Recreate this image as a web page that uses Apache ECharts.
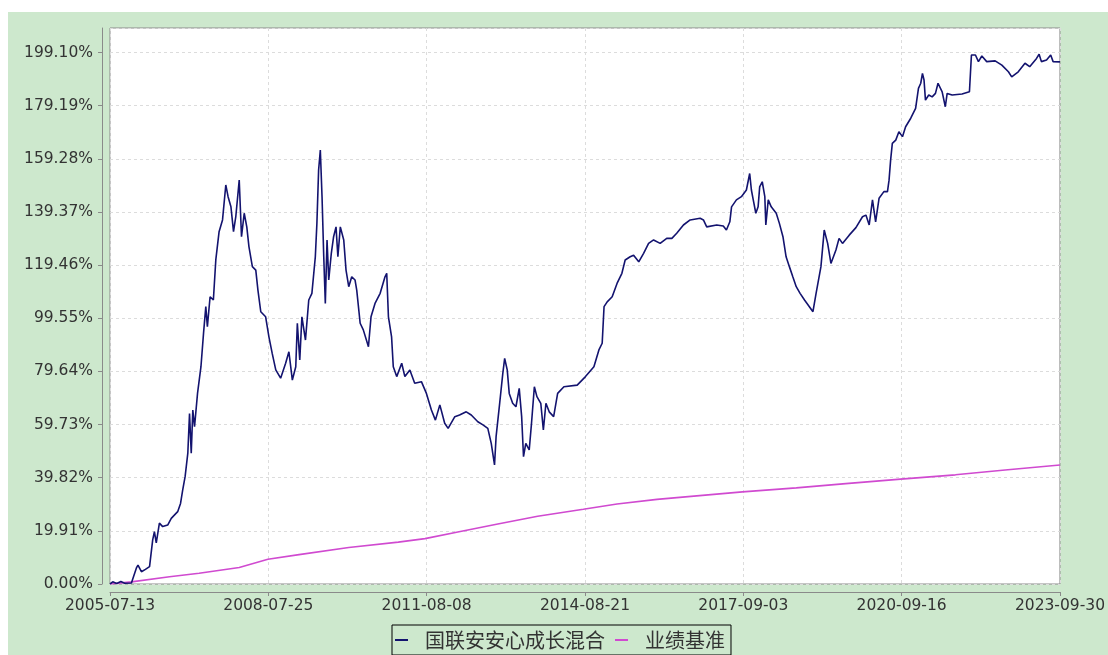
<!DOCTYPE html>
<html><head><meta charset="utf-8">
<script src="https://cdn.jsdelivr.net/npm/echarts@6/dist/echarts.min.js"></script>
<style>
html,body{margin:0;padding:0;background:#fff;width:1108px;height:655px;overflow:hidden}
#c{position:absolute;left:8px;top:12px;width:1100px;height:643px;background:#cde8cd}
</style>
</head><body><div id="c"></div>
<script>
const startDate = '2005-07-13';
const endDate = '2023-09-30';
const xTickLabels = ['2005-07-13','2008-07-25','2011-08-08','2014-08-21','2017-09-03','2020-09-16','2023-09-30'];
const yStep = 19.91;
const yMax = 208.3;
const seriesNames = ['国联安安心成长混合','业绩基准'];

const fundDates = [
'2005-07-13','2005-08-01','2005-08-29','2005-09-27','2005-10-24','2005-12-10','2006-01-14','2006-01-25','2006-02-18','2006-03-18',
'2006-04-16','2006-05-08','2006-05-20','2006-06-02','2006-06-24','2006-07-17','2006-08-21','2006-09-15','2006-10-30','2006-11-19',
'2006-12-04','2006-12-21','2007-01-09','2007-01-21','2007-02-02','2007-02-13','2007-02-25','2007-03-18','2007-04-11','2007-04-29',
'2007-05-15','2007-05-26','2007-06-14','2007-07-07','2007-07-24','2007-08-16','2007-09-09','2007-10-02','2007-10-18','2007-11-07',
'2007-11-25','2007-12-11','2008-01-04','2008-01-20','2008-02-08','2008-02-26','2008-03-12','2008-04-05','2008-04-29','2008-05-14',
'2008-06-03','2008-07-07','2008-07-30','2008-08-22','2008-09-16','2008-10-20','2008-11-24','2008-12-17','2009-01-10','2009-02-03',
'2009-02-14','2009-03-03','2009-03-18','2009-04-12','2009-05-05','2009-05-27','2009-06-20','2009-07-01','2009-07-13','2009-07-25',
'2009-08-06','2009-08-18','2009-08-29','2009-09-10','2009-09-22','2009-10-10','2009-10-26','2009-11-12','2009-11-25','2009-12-12',
'2010-01-05','2010-01-21','2010-02-09','2010-03-02','2010-03-25','2010-04-06','2010-04-30','2010-05-22','2010-06-27','2010-07-15',
'2010-08-12','2010-09-17','2010-10-21','2010-11-02','2010-11-14','2010-12-06','2010-12-18','2011-01-11','2011-02-15','2011-03-09',
'2011-04-13','2011-05-17','2011-07-03','2011-08-07','2011-09-11','2011-10-09','2011-11-09','2011-12-13','2012-01-06','2012-02-22',
'2012-03-26','2012-05-12','2012-06-16','2012-08-01','2012-09-06','2012-10-10','2012-11-03','2012-11-26','2012-12-07','2013-01-01',
'2013-01-23','2013-02-05','2013-02-23','2013-03-09','2013-04-02','2013-04-25','2013-05-18','2013-06-04','2013-06-17','2013-07-03',
'2013-07-27','2013-08-12','2013-09-01','2013-09-19','2013-10-16','2013-11-03','2013-11-21','2013-12-14','2014-01-14','2014-02-11',
'2014-03-27','2014-06-28','2014-08-25','2014-10-23','2014-11-27','2014-12-20','2015-01-02','2015-01-24','2015-02-28','2015-04-03',
'2015-05-07','2015-05-30','2015-07-04','2015-07-28','2015-09-02','2015-10-06','2015-11-10','2015-12-15','2016-01-30','2016-03-16',
'2016-04-21','2016-05-25','2016-07-11','2016-08-27','2016-11-05','2016-11-28','2016-12-21','2017-03-01','2017-04-16','2017-05-08',
'2017-06-01','2017-06-13','2017-07-17','2017-08-21','2017-09-25','2017-10-18','2017-10-30','2017-11-12','2017-11-30','2017-12-16',
'2017-12-27','2018-01-14','2018-02-01','2018-02-08','2018-02-25','2018-03-18','2018-04-22','2018-05-14','2018-06-08','2018-06-30',
'2018-07-23','2018-08-16','2018-09-09','2018-10-06','2018-11-06','2018-12-10','2019-01-04','2019-01-26','2019-03-01','2019-03-24',
'2019-04-17','2019-05-10','2019-06-14','2019-07-06','2019-07-30','2019-09-15','2019-11-01','2019-12-17','2020-01-10','2020-02-02',
'2020-02-25','2020-03-18','2020-04-11','2020-05-15','2020-06-09','2020-06-20','2020-07-01','2020-07-13','2020-08-06','2020-08-28',
'2020-09-22','2020-10-14','2020-11-19','2020-12-23','2021-01-12','2021-01-28','2021-02-09','2021-02-20','2021-03-02','2021-03-25',
'2021-04-18','2021-05-11','2021-05-29','2021-06-27','2021-07-19','2021-08-01','2021-09-05','2021-11-13','2022-01-04','2022-01-18',
'2022-02-15','2022-03-08','2022-04-01','2022-05-05','2022-07-03','2022-08-19','2022-10-04','2022-10-27','2022-12-12','2023-01-28',
'2023-03-02','2023-04-19','2023-05-07','2023-05-23','2023-06-28','2023-07-27','2023-08-13','2023-09-30'
];
const fundValues = [
0.0,0.8,0.2,0.9,0.3,0.4,6.0,7.1,4.6,5.5,
6.5,16.5,19.6,15.4,22.8,21.5,22.1,24.6,27.1,30.2,
35.2,40.2,49.0,63.9,49.0,65.2,58.9,71.4,81.4,93.9,
103.9,96.4,107.6,106.4,121.4,132.0,136.4,149.5,145.1,141.3,
132.0,137.6,151.3,130.1,138.9,133.8,126.4,118.9,117.6,110.1,
102.0,100.1,92.6,86.4,80.2,77.1,82.7,87.0,76.4,81.4,
97.7,83.9,100.1,91.4,106.4,108.9,122.6,135.1,155.1,162.6,
145.1,122.6,105.1,128.9,113.9,123.9,130.1,133.8,122.6,133.8,
128.9,117.6,111.4,115.1,113.9,110.1,97.7,95.2,88.9,100.1,
105.1,108.9,115.1,116.4,100.1,92.6,81.4,77.7,82.7,77.7,
80.2,75.2,75.8,71.4,65.2,61.4,67.1,60.2,58.3,62.7,
63.3,64.5,63.3,60.8,59.6,58.3,52.7,44.6,55.2,67.7,
78.9,84.5,80.2,71.4,67.7,66.4,73.3,62.7,47.7,52.7,
50.2,60.2,73.9,70.2,67.7,57.7,67.7,64.5,62.7,71.4,
73.9,74.5,77.7,81.4,87.7,90.2,103.9,105.7,107.6,112.6,
116.4,121.4,122.6,123.2,120.7,123.9,127.6,128.9,127.6,129.5,
129.5,131.4,134.5,136.4,137.0,136.4,133.8,134.5,134.1,132.6,
135.7,141.3,143.9,145.1,147.6,153.8,147.6,143.9,138.9,141.3,
148.8,150.7,145.1,134.5,143.9,141.3,138.9,135.1,130.1,122.6,
118.9,115.1,111.4,108.9,106.4,103.9,102.0,108.9,118.9,132.6,
127.6,120.1,125.1,129.5,127.6,130.7,133.5,137.6,138.2,134.5,
143.9,135.7,144.5,147.0,147.0,151.3,158.8,165.1,166.3,169.4,
167.6,171.3,174.5,178.2,185.7,187.6,191.3,188.8,181.3,183.2,
182.5,183.8,187.6,184.4,178.8,183.8,183.2,183.6,184.4,198.2,
198.2,195.7,197.8,195.7,196.0,194.4,191.9,190.0,191.9,195.1,
193.8,196.9,198.5,195.7,196.3,198.2,195.7,195.6
];

const benchDates = [
'2005-07-13','2005-12-10','2006-09-03','2007-03-29','2008-01-04','2008-07-23','2009-02-26','2010-02-09','2011-01-22','2011-07-28',
'2012-03-14','2012-12-19','2013-09-24','2014-08-10','2015-04-03','2016-01-08','2016-10-12','2017-08-28','2018-09-09','2019-08-22',
'2020-09-10','2021-09-28','2022-09-11','2023-09-30'
];
const benchValues = [
0.0,0.8,2.7,4.0,6.2,9.3,11.0,13.7,15.7,17.0,
19.5,22.5,25.4,28.0,30.0,31.7,33.0,34.5,36.0,37.6,
39.3,40.9,42.7,44.6
];

const t0 = Date.parse(startDate);
const toHours = d => (Date.parse(d) - t0) / 3600000;
const xSpan = toHours(endDate);
const xInterval = xSpan / (xTickLabels.length - 1);
const fundData = fundDates.map((d, i) => [toHours(d), fundValues[i]]);
const benchData = benchDates.map((d, i) => [toHours(d), benchValues[i]]);

const chart = echarts.init(document.getElementById('c'));
const labelFont = {fontFamily: 'DejaVu Sans', fontSize: 15.5, color: '#333'};
chart.setOption({
  animation: false,
  grid: {left: 102, top: 16, width: 955, height: 556, show: true, backgroundColor: '#fff', borderColor: '#8a8a8a', borderWidth: 1},
  xAxis: {
    type: 'value', position: 'bottom', min: 0, max: xSpan, interval: xInterval, offset: 8,
    axisLine: {show: true, onZero: false, lineStyle: {color: '#8a8a8a', width: 1}},
    axisTick: {show: true, length: 4, lineStyle: {color: '#8a8a8a'}},
    axisLabel: Object.assign({margin: 6, formatter: v => xTickLabels[Math.round(v / xInterval)] || ''}, labelFont),
    splitLine: {show: true, lineStyle: {color: '#dcdcdc', type: [3, 3], width: 1}}
  },
  yAxis: {
    type: 'value', position: 'left', min: 0, max: yMax, interval: yStep, offset: 8,
    axisLine: {show: true, onZero: false, lineStyle: {color: '#8a8a8a', width: 1}},
    axisTick: {show: true, length: 4, lineStyle: {color: '#8a8a8a'}},
    axisLabel: Object.assign({margin: 9, showMaxLabel: false, formatter: v => v.toFixed(2) + '%'}, labelFont),
    splitLine: {show: true, lineStyle: {color: '#dcdcdc', type: [3, 3], width: 1}}
  },
  legend: {
    left: 384, top: 613, orient: 'horizontal',
    borderColor: '#000', borderWidth: 1, padding: [3, 6, 3, 3],
    itemGap: 10, itemWidth: 13, itemHeight: 2, icon: 'rect',
    textStyle: {fontFamily: 'Noto Sans CJK SC', fontSize: 20, lineHeight: 24, color: '#333', padding: [0, 0, 0, 12]},
    data: seriesNames
  },
  series: [
    {name: seriesNames[0], type: 'line', data: fundData, showSymbol: false, z: 3,
     lineStyle: {color: '#13136f', width: 1.6}, itemStyle: {color: '#13136f'}},
    {name: seriesNames[1], type: 'line', data: benchData, showSymbol: false, z: 2,
     lineStyle: {color: '#d04ad0', width: 1.6}, itemStyle: {color: '#d04ad0'}}
  ]
});
</script>
</body></html>
